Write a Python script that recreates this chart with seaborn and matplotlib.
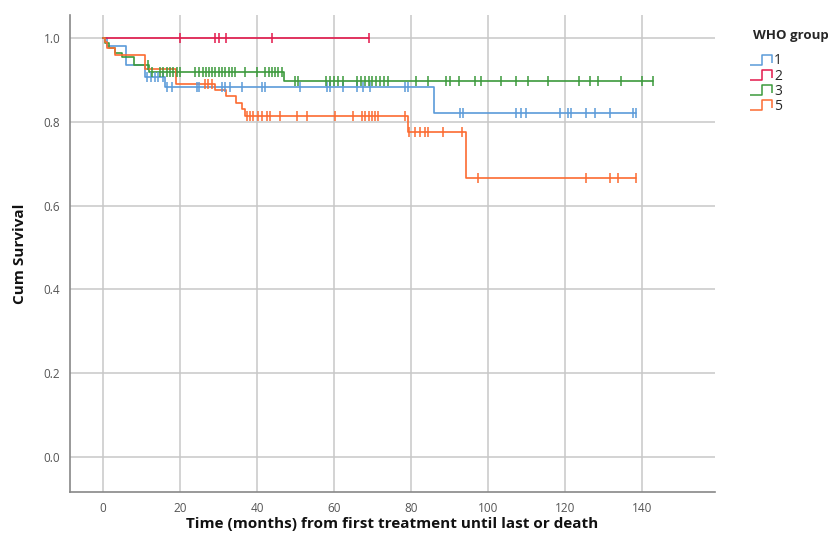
import numpy as np
import pandas as pd
import matplotlib
matplotlib.use("Agg")
import matplotlib.pyplot as plt
from matplotlib.path import Path
from matplotlib.lines import Line2D
import seaborn as sns

# ---- data ----
groups = ["1", "2", "3", "5"]

g1_times = [0, 1, 6, 11, 16, 86]
g1_surv = [1.0, 0.98, 0.935, 0.908, 0.884, 0.821]
g1_cens = [11.4, 12.5, 13.5, 14.3, 15.6, 16.6, 17.9, 24.3, 25, 30.8, 31.7, 33, 36, 41.2, 42,
           51.2, 58.1, 59, 62.3, 66, 67.5, 69.4, 78.4, 79.2, 92.7, 93.4, 107.4, 108.7,
           109.8, 118.7, 120.8, 121.7, 125.6, 127.8, 131.7, 137.7, 138.6]

g2_times = [0]
g2_surv = [1.0]
g2_cens = [20, 29, 30, 32, 44, 69]

g3_times = [0, 0.5, 1.5, 3, 5, 8, 12, 47]
g3_surv = [1.0, 0.988, 0.975, 0.965, 0.955, 0.936, 0.919, 0.897]
g3_cens = [11.7, 12.7, 14.8, 15.6, 16.6, 17.4, 18.2, 19.2, 20, 24, 25, 26, 26.8, 27.6, 28.4,
           29.2, 30, 31, 31.8, 32.6, 33.5, 34.3, 36.9, 39.9, 42, 43, 43.8, 44.6, 45.5,
           46.4, 49.9, 50.6, 58, 59, 60, 61, 62.3, 66, 67, 68, 69, 70, 71, 72, 73, 74,
           81.4, 84.4, 89.2, 90.1, 92.5, 96.6, 98.3, 103.5, 107.4, 110.4, 115.6, 123.6,
           126.5, 128.6, 134.7, 139.9, 142.9]

g5_times = [0, 0.5, 1, 3, 11, 19, 29, 32, 34.5, 36, 37, 79.2, 94.4]
g5_surv = [1.0, 0.99, 0.975, 0.96, 0.925, 0.89, 0.876, 0.861, 0.845, 0.83, 0.814, 0.776, 0.665]
g5_cens = [26.5, 27.3, 28.3, 37.3, 38.2, 39, 40.3, 41.2, 42.5, 43.4, 46, 50.3, 52.9, 60.3,
           65, 67.2, 68, 69, 69.8, 70.6, 71.4, 78.4, 79.6, 81, 82.3, 83.6, 84.4, 88.3,
           93.2, 97.4, 125.6, 131.7, 133.8, 138.6]

colors = {"1": "#5b9bd9", "2": "#e3194c", "3": "#3c9a3c", "5": "#fc6b31"}

series = {
    "1": (g1_times, g1_surv, g1_cens),
    "2": (g2_times, g2_surv, g2_cens),
    "3": (g3_times, g3_surv, g3_cens),
    "5": (g5_times, g5_surv, g5_cens),
}

# ---- build long tables ----
step_rows, cens_rows = [], []
for g in groups:
    t, s, c = series[g]
    t = list(t); s = list(s)
    end = max(max(c), t[-1])
    t_ext = t + [end]
    s_ext = s + [s[-1]]
    for order, (ti, si) in enumerate(zip(t_ext, s_ext)):
        step_rows.append({"time": ti, "surv": si, "group": g, "order": order})
    ta = np.array(t); sa = np.array(s)
    for ci in c:
        idx = np.searchsorted(ta, ci, side="right") - 1
        cens_rows.append({"time": ci, "surv": sa[idx], "group": g})
steps = pd.DataFrame(step_rows)
cens = pd.DataFrame(cens_rows)

# ---- figure ----
sns.set_theme(style="white")
plt.rcParams["font.family"] = ["Open Sans", "DejaVu Sans"]
fig = plt.figure(figsize=(8.29, 5.33), dpi=100)
ax = fig.add_axes([0.0844, 0.0769, 0.8625 - 0.0844, 0.9719 - 0.0769])

for g in groups:
    d = steps[steps.group == g]
    sns.lineplot(data=d, x="time", y="surv", color=colors[g], drawstyle="steps-post",
                 estimator=None, sort=False, lw=1.2, ax=ax, legend=False, zorder=3)
    dc = cens[cens.group == g]
    sns.scatterplot(data=dc, x="time", y="surv", color=colors[g], marker="|", s=50,
                    linewidth=1.1, ax=ax, legend=False, zorder=4)

ax.set_xlim(-8.6, 159)
ax.set_ylim(-0.0835, 1.055)
xt = [0, 20, 40, 60, 80, 100, 120, 140]
yt = [0.0, 0.2, 0.4, 0.6, 0.8, 1.0]
ax.set_xticks(xt)
ax.set_yticks(yt)
ax.set_xticklabels([str(v) for v in xt])
ax.set_yticklabels([f"{v:.1f}" for v in yt])
ax.tick_params(axis="both", length=0, labelsize=8.5, labelcolor="#555555")
ax.tick_params(axis="x", pad=7)
ax.tick_params(axis="y", pad=7)
ax.grid(True, color="#c8c8c8", lw=1.1)
ax.set_axisbelow(True)
for sp in ["top", "right"]:
    ax.spines[sp].set_visible(False)
for sp in ["left", "bottom"]:
    ax.spines[sp].set_color("#888888")
    ax.spines[sp].set_linewidth(1.2)

ax.set_xlabel("Time (months) from first treatment until last or death", fontsize=11,
              fontweight="bold", color="#111111")
ax.xaxis.set_label_coords(0.5, -0.068)
ax.xaxis.label.set_va("center")
ax.set_ylabel("Cum Survival", fontsize=11, fontweight="bold", color="#111111", labelpad=12)

# legend with step-shaped handles
step_marker = Path([(-1.0, -0.45), (0.1, -0.45), (0.1, 0.45), (1.0, 0.45), (1.0, -0.25)],
                   [Path.MOVETO, Path.LINETO, Path.LINETO, Path.LINETO, Path.LINETO])
handles = [Line2D([], [], linestyle="none", marker=step_marker, markersize=16,
                  markeredgecolor=colors[g], markerfacecolor="none", markeredgewidth=1.1)
           for g in groups]
leg = fig.legend(handles, groups, title="WHO group", loc="upper left",
                 bbox_to_anchor=(0.9, 0.958), frameon=False, fontsize=10,
                 handlelength=1.2, handletextpad=0.3, labelspacing=0.02,
                 borderpad=0, alignment="left")
leg.get_title().set_fontweight("bold")
leg.get_title().set_fontsize(9.5)
leg._legend_box.sep = 8

fig.savefig("out.png", dpi=100)
